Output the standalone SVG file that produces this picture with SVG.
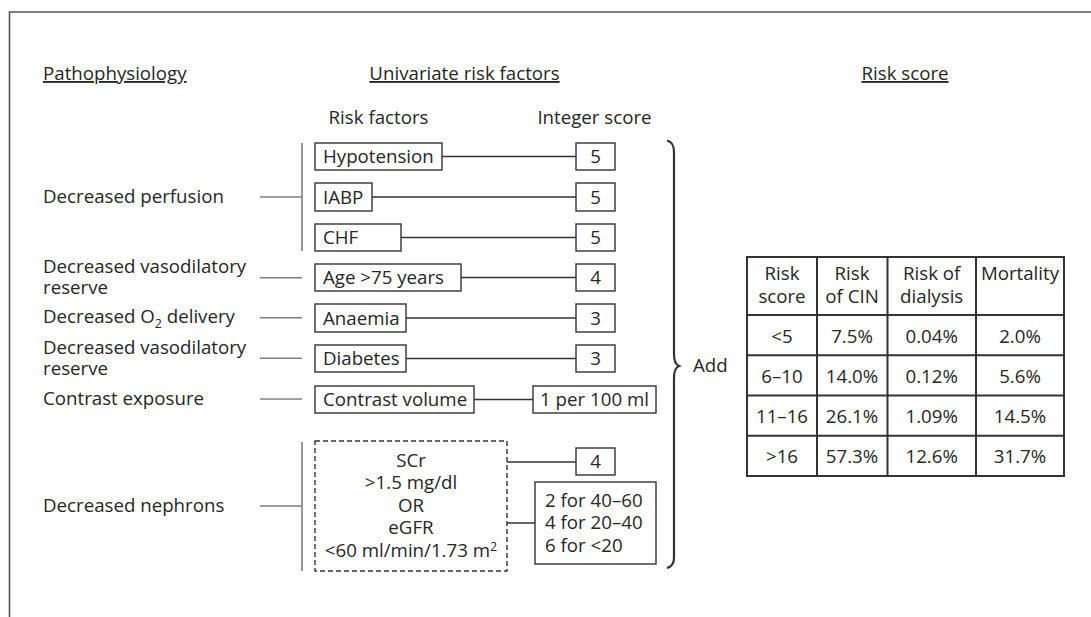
<svg xmlns="http://www.w3.org/2000/svg" width="1091" height="617" viewBox="0 0 1091 617">
<style>
text{font-family:"Open Sans","Noto Sans","DejaVu Sans",sans-serif;font-size:18.7px;fill:#262626}
.u{text-decoration:underline}
.m{text-anchor:middle}
.box{fill:#fff;stroke:#333;stroke-width:1.4}
.dash{fill:#fff;stroke:#333;stroke-width:1.4;stroke-dasharray:5 3}
.lc{stroke:#808080;stroke-width:1.6;fill:none}
.rc{stroke:#333;stroke-width:1.4;fill:none}
.tb{stroke:#333;stroke-width:2;fill:none}
</style>
<rect width="1091" height="617" fill="#fff"/>
<path d="M9.5 617 V12 H1091" fill="none" stroke="#555" stroke-width="1.6"/>
<g id="headers">
<text x="43" y="80" class="u">Pathophysiology</text>
<text x="464.5" y="80" class="u m">Univariate risk factors</text>
<text x="905" y="80" class="u m">Risk score</text>
<text x="378.5" y="124" class="m">Risk factors</text>
<text x="594.5" y="124" class="m">Integer score</text>
</g>
<g id="pathophysiology">
<text x="43" y="203">Decreased perfusion</text>
<text x="43" y="273">Decreased vasodilatory</text>
<text x="43" y="294">reserve</text>
<text x="43" y="323">Decreased O<tspan font-size="12.5" dy="5">2</tspan><tspan dy="-5"> delivery</tspan></text>
<text x="43" y="354">Decreased vasodilatory</text>
<text x="43" y="375">reserve</text>
<text x="43" y="405">Contrast exposure</text>
<text x="43" y="512">Decreased nephrons</text>
</g>
<g id="connectors">
<path class="lc" d="M260 197H302M302 143V251M260 277.7H302M260 317.7H302M260 358.3H302M260 399H302M260 506H302M302 442V571"/>
<path class="rc" d="M442 156.5H576M372 197H576M401 237.5H576M461 277.5H576M406 318H576M406 358.5H576M474 399.5H533M507 462H576M507 523H535"/>
</g>
<g id="hypotension"><rect class="box" x="315" y="143" width="127" height="27"/><text x="323" y="163">Hypotension</text></g>
<g id="iabp"><rect class="box" x="315" y="183" width="57" height="28"/><text x="323" y="204">IABP</text></g>
<g id="chf"><rect class="box" x="315" y="224" width="86" height="27"/><text x="323" y="244">CHF</text></g>
<g id="age"><rect class="box" x="315" y="264" width="146" height="27"/><text x="323" y="284">Age &gt;75 years</text></g>
<g id="anaemia"><rect class="box" x="315" y="304" width="91" height="28"/><text x="323" y="325">Anaemia</text></g>
<g id="diabetes"><rect class="box" x="315" y="345" width="91" height="27"/><text x="323" y="365">Diabetes</text></g>
<g id="contrast"><rect class="box" x="315" y="386" width="159" height="27"/><text x="323" y="406">Contrast volume</text></g>
<g id="renal"><rect class="dash" x="315" y="441" width="192" height="130"/>
<text x="411" y="467" class="m">SCr</text>
<text x="411" y="489" class="m">&gt;1.5 mg/dl</text>
<text x="411" y="512" class="m">OR</text>
<text x="411" y="534" class="m">eGFR</text>
<text x="411" y="557" class="m">&lt;60 ml/min/1.73 m<tspan font-size="12.5" dy="-6">2</tspan></text>
</g>
<g id="s1"><rect class="box" x="576" y="143" width="39" height="27"/><text x="595.5" y="163" class="m">5</text></g>
<g id="s2"><rect class="box" x="576" y="183" width="39" height="28"/><text x="595.5" y="204" class="m">5</text></g>
<g id="s3"><rect class="box" x="576" y="224" width="39" height="27"/><text x="595.5" y="244" class="m">5</text></g>
<g id="s4"><rect class="box" x="576" y="264" width="39" height="27"/><text x="595.5" y="284" class="m">4</text></g>
<g id="s5"><rect class="box" x="576" y="304" width="39" height="28"/><text x="595.5" y="325" class="m">3</text></g>
<g id="s6"><rect class="box" x="576" y="345" width="39" height="27"/><text x="595.5" y="365" class="m">3</text></g>
<g id="s7"><rect class="box" x="533" y="386" width="123" height="27"/><text x="594.5" y="406" class="m">1 per 100 ml</text></g>
<g id="s8"><rect class="box" x="576" y="448" width="39" height="27"/><text x="595.5" y="468" class="m">4</text></g>
<g id="s9"><rect class="box" x="535" y="482" width="121" height="82"/>
<text x="545" y="507">2 for 40–60</text>
<text x="545" y="529">4 for 20–40</text>
<text x="545" y="552">6 for &lt;20</text>
</g>
<g id="brace">
<path d="M667 140.5 Q674 142 674 152 V354 Q674 364 679 366 Q674 368 674 378 V558 Q674 566 667 568" fill="none" stroke="#333" stroke-width="2.2"/>
<text x="693" y="372">Add</text>
</g>
<g id="table">
<rect class="tb" x="747" y="257" width="317" height="219"/>
<path class="tb" d="M817 257V476M887.5 257V476M976 257V476M747 315H1064M747 355.3H1064M747 395.5H1064M747 435.7H1064"/>
<text x="782" y="280" class="m">Risk</text><text x="782" y="303" class="m">score</text>
<text x="852" y="280" class="m">Risk</text><text x="852" y="303" class="m">of CIN</text>
<text x="931.7" y="280" class="m">Risk of</text><text x="931.7" y="303" class="m">dialysis</text>
<text x="1020" y="280" class="m">Mortality</text>
<text x="782" y="343" class="m">&lt;5</text><text x="852" y="343" class="m">7.5%</text><text x="931.7" y="343" class="m">0.04%</text><text x="1020" y="343" class="m">2.0%</text>
<text x="782" y="383" class="m">6–10</text><text x="852" y="383" class="m">14.0%</text><text x="931.7" y="383" class="m">0.12%</text><text x="1020" y="383" class="m">5.6%</text>
<text x="782" y="423" class="m">11–16</text><text x="852" y="423" class="m">26.1%</text><text x="931.7" y="423" class="m">1.09%</text><text x="1020" y="423" class="m">14.5%</text>
<text x="782" y="463" class="m">&gt;16</text><text x="852" y="463" class="m">57.3%</text><text x="931.7" y="463" class="m">12.6%</text><text x="1020" y="463" class="m">31.7%</text>
</g>
</svg>
